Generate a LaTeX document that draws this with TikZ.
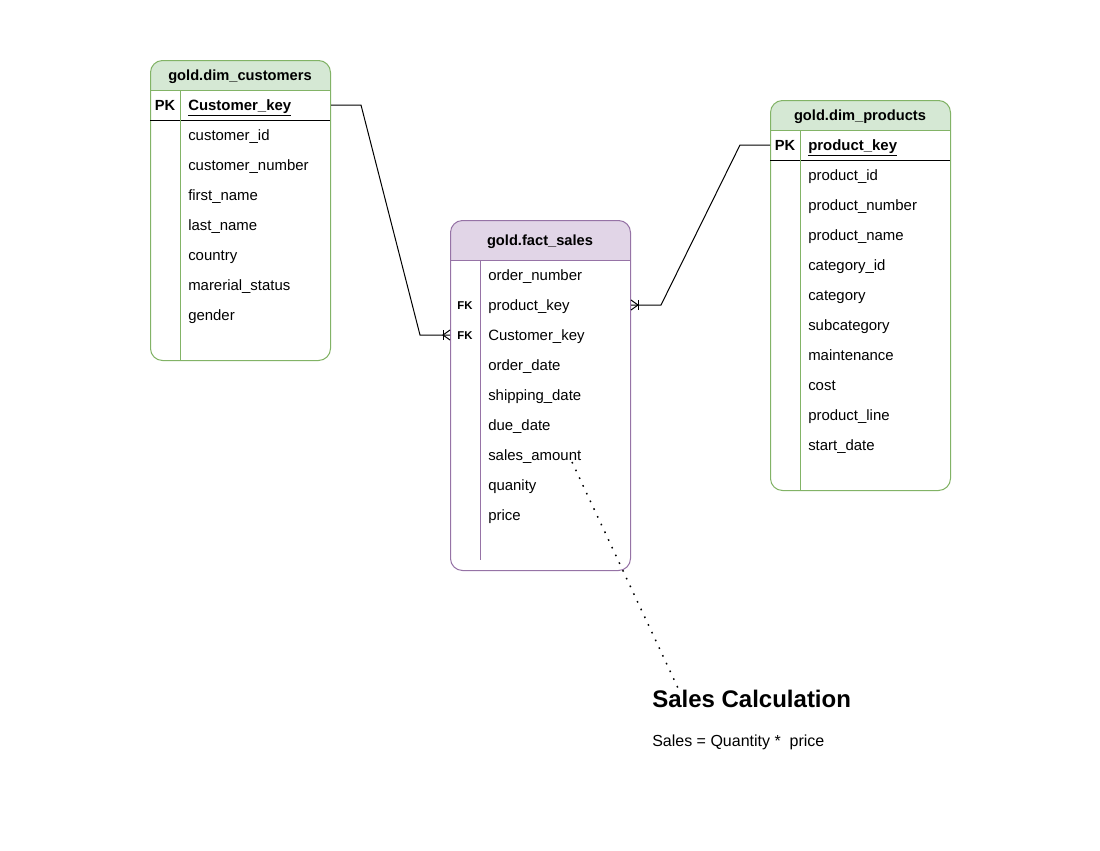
\documentclass[tikz,border=0pt]{standalone}
\usepackage{fontspec}
\setmainfont{Liberation Sans}
\usetikzlibrary{calc}
\definecolor{grnline}{RGB}{130,179,102}
\definecolor{grnfill}{RGB}{213,232,212}
\definecolor{purline}{RGB}{150,115,166}
\definecolor{purfill}{RGB}{225,213,231}
\tikzset{
  tbl/.style={draw=#1, line width=0.75pt, rounded corners=9pt, minimum width=135pt, inner sep=0pt, anchor=north west},
  hdr/.style 2 args={path picture={\fill[#1, sharp corners] (path picture bounding box.north west) rectangle ([yshift=-#2]path picture bounding box.north east);}},
  title/.style={anchor=base, yshift=-3.8pt, inner sep=0pt, font=\fontsize{11}{13}\selectfont\bfseries},
  field/.style={anchor=base west, yshift=-3.8pt, inner sep=0pt, font=\fontsize{11.2}{13}\selectfont},
  keyfield/.style={field, font=\fontsize{11.2}{13}\selectfont\bfseries},
  keytag/.style={anchor=base, yshift=-3.8pt, inner sep=0pt, font=\fontsize{11}{13}\selectfont\bfseries},
  fktag/.style={anchor=base, yshift=-3pt, inner sep=0pt, font=\fontsize{8.5}{10}\selectfont\bfseries},
  conn/.style={line width=0.75pt, draw=black},
}
\begin{document}
\begin{tikzpicture}[x=0.75pt,y=0.75pt,yscale=-1,xscale=1]
\useasboundingbox (0,0) rectangle (1100,850);

%Table: gold.dim_customers
\node[tbl=grnline, hdr={grnfill}{22.5pt}, minimum height=225pt] (cust_box) at (150,60) {};
\draw[grnline, line width=0.75pt] (150,90) -- (330,90) ;
\draw[line width=0.75pt] (150,120) -- (330,120) ;
\draw[grnline, line width=0.75pt] (180,90) -- (180,360) ;

%Table: gold.dim_products
\node[tbl=grnline, hdr={grnfill}{22.5pt}, minimum height=292.5pt] (prod_box) at (770,100) {};
\draw[grnline, line width=0.75pt] (770,130) -- (950,130) ;
\draw[line width=0.75pt] (770,160) -- (950,160) ;
\draw[grnline, line width=0.75pt] (800,130) -- (800,490) ;

%Table: gold.fact_sales
\node[tbl=purline, hdr={purfill}{30pt}, minimum height=262.5pt] (fact_box) at (450,220) {};
\draw[purline, line width=0.75pt] (450,260) -- (630,260) ;
\draw[purline, line width=0.75pt] (480,260) -- (480,560) ;

% Text Node
\node[title] (cust_title) at (240,75) {gold.dim\_customers};
\node[keytag] (cust_pk) at (165,105) {PK};
\node[keyfield] (cust_key) at (188,105) {\underline{Customer\_key}};
\node[field] (cust_id) at (188,135) {customer\_id};
\node[field] (cust_num) at (188,165) {customer\_number};
\node[field] (cust_first) at (188,195) {first\_name};
\node[field] (cust_last) at (188,225) {last\_name};
\node[field] (cust_country) at (188,255) {country};
\node[field] (cust_marital) at (188,285) {marerial\_status};
\node[field] (cust_gender) at (188,315) {gender};

% Text Node
\node[title] (prod_title) at (860,115) {gold.dim\_products};
\node[keytag] (prod_pk) at (785,145) {PK};
\node[keyfield] (prod_key) at (808,145) {\underline{product\_key}};
\node[field] (prod_id) at (808,175) {product\_id};
\node[field] (prod_num) at (808,205) {product\_number};
\node[field] (prod_name) at (808,235) {product\_name};
\node[field] (prod_catid) at (808,265) {category\_id};
\node[field] (prod_cat) at (808,295) {category};
\node[field] (prod_sub) at (808,325) {subcategory};
\node[field] (prod_maint) at (808,355) {maintenance};
\node[field] (prod_cost) at (808,385) {cost};
\node[field] (prod_line) at (808,415) {product\_line};
\node[field] (prod_start) at (808,445) {start\_date};

% Text Node
\node[title] (fact_title) at (540,240) {gold.fact\_sales};
\node[field] (fact_order) at (488,275) {order\_number};
\node[fktag] (fact_fk1) at (465,305) {FK};
\node[field] (fact_pkey) at (488,305) {product\_key};
\node[fktag] (fact_fk2) at (465,335) {FK};
\node[field] (fact_ckey) at (488,335) {Customer\_key};
\node[field] (fact_odate) at (488,365) {order\_date};
\node[field] (fact_sdate) at (488,395) {shipping\_date};
\node[field] (fact_ddate) at (488,425) {due\_date};
\node[field] (fact_amt) at (488,455) {sales\_amount};
\node[field] (fact_qty) at (488,485) {quanity};
\node[field] (fact_price) at (488,515) {price};

%Relation: customers -> fact_sales
\coordinate (ck_end) at (fact_box.west |- 0,335);
\draw[conn] (cust_box.east |- 0,105) -- ++(30,0) -- ($(ck_end)+(-30,0)$) -- (ck_end) ;
\draw[conn] ($(ck_end)+(0,-5)$) -- ($(ck_end)+(-7,0)$) -- ($(ck_end)+(0,5)$) ;
\draw[conn] ($(ck_end)+(-7,-5)$) -- ($(ck_end)+(-7,5)$) ;

%Relation: products -> fact_sales
\coordinate (pk_end) at (fact_box.east |- 0,305);
\draw[conn] (prod_box.west |- 0,145) -- ++(-30,0) -- ($(pk_end)+(30,0)$) -- (pk_end) ;
\draw[conn] ($(pk_end)+(0,-5)$) -- ($(pk_end)+(7,0)$) -- ($(pk_end)+(0,5)$) ;
\draw[conn] ($(pk_end)+(7,-5)$) -- ($(pk_end)+(7,5)$) ;

% Text Node
\node[anchor=base west, inner sep=0pt, font=\fontsize{18}{21}\selectfont\bfseries] (calc_title) at (652,707) {Sales Calculation};
\node[anchor=base west, inner sep=0pt, font=\fontsize{12}{14}\selectfont] (calc_text) at (652,746) {Sales = Quantity *\ \ price};

%Dotted note line
\coordinate (note_a) at (572,462);
\coordinate (note_b) at (678,688);
\draw[line width=1.1pt, dash pattern=on 1.2pt off 5.2pt] (note_a) -- (note_b) ;

\end{tikzpicture}
\end{document}
